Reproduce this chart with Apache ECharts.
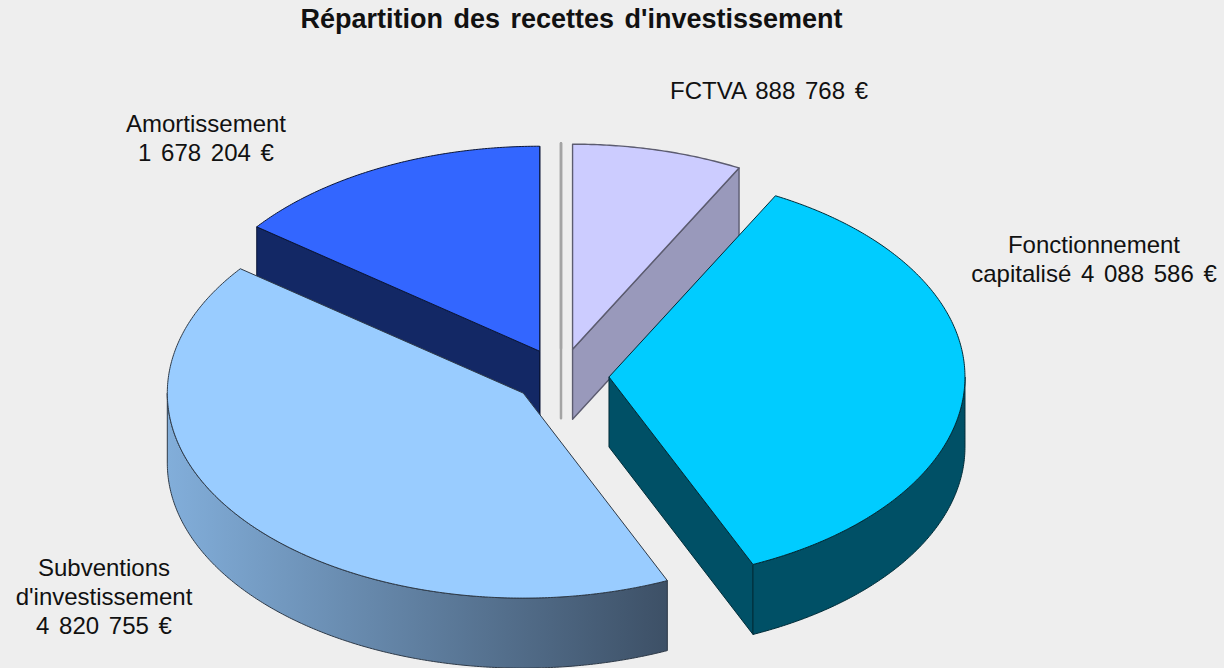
<!DOCTYPE html>
<html lang="fr">
<head>
<meta charset="utf-8">
<style>
html,body{margin:0;padding:0;background:#eeeeee}
#c{width:1224px;height:668px}
#c text{word-spacing:3px}
</style>
<script src="https://cdn.jsdelivr.net/npm/echarts@6/dist/echarts.min.js"></script>
</head>
<body>
<div id="c"></div>
<script>
const chartTitle = "Répartition des recettes d'investissement";
const names = ['', 'FCTVA', 'Fonctionnement\ncapitalisé', "Subventions\nd'investissement", 'Amortissement'];
const values = [0, 888768, 4088586, 4820755, 1678204];
const joiners = ['', ' ', ' ', '\n', '\n'];
const topColors = ['#999999', '#CCCCFF', '#00CCFF', '#99CCFF', '#3366FF'];
const wallColors = ['#999999', '#9999BB', '#005066', '#5f7fa0', '#132865'];
const edgeColors = ['#a4a4a4', '#5c5c70', '#002c38', '#2e3a48', '#0a1638'];
const edgeWidths = [2.5, 1.4, 1, 1, 1];
const subsidyGradient = ['#82AEDA', '#3D5066'];
const labelCentres = [[0, 0], [769, 90], [1094, 258.5], [104, 596], [206, 137.5]];

const PIE = { cx: 561, cy: 376, rx: 356, ry: 205, depth: 70, explode: 48, step: Math.PI / 360 };

const total = values.reduce((a, b) => a + b, 0);
let run = 0;
const starts = values.map(v => { const s = run; run += v; return s / total * 2 * Math.PI; });
const fmt = v => String(v).replace(/\B(?=(\d{3})+$)/g, ' ');

function renderItem(params, api) {
  const i = params.dataIndex;
  const v = api.value(0);
  const a0 = starts[i], a1 = a0 + v / total * 2 * Math.PI, mid = (a0 + a1) / 2;
  const k = PIE.ry / PIE.rx;
  const ox = PIE.cx + PIE.explode * Math.sin(mid);
  const oy = PIE.cy - PIE.explode * k * Math.cos(mid);
  const at = (a, d) => [ox + PIE.rx * Math.sin(a), oy - PIE.ry * Math.cos(a) + d];
  const arc = (from, to, d) => {
    const pts = [];
    const n = Math.max(1, Math.ceil((to - from) / PIE.step));
    for (let j = 0; j <= n; j++) pts.push(at(from + (to - from) * j / n, d));
    return pts;
  };
  const apex = d => [ox, oy + d];
  const z = Math.round(-Math.cos(mid) * 100) + 200;
  const edge = { stroke: edgeColors[i], lineWidth: edgeWidths[i], lineJoin: 'round' };
  const poly = (points, fill) => ({
    type: 'polygon', z2: z, shape: { points },
    style: Object.assign({ fill }, edge)
  });
  const kids = [];
  const wallFill = i === 3
    ? { type: 'linear', x: 0, y: 0, x2: 1, y2: 0,
        colorStops: [{ offset: 0, color: subsidyGradient[0] }, { offset: 1, color: subsidyGradient[1] }] }
    : wallColors[i];
  if (Math.sin(a0) < -1e-9) {
    kids.push(poly([apex(0), at(a0, 0), at(a0, PIE.depth), apex(PIE.depth)], wallColors[i]));
  }
  if (Math.sin(a1) > -1e-9) {
    kids.push(poly([apex(0), at(a1, 0), at(a1, PIE.depth), apex(PIE.depth)], wallColors[i]));
  }
  const lo = Math.max(a0, Math.PI / 2), hi = Math.min(a1, 3 * Math.PI / 2);
  if (hi > lo) {
    kids.push(poly(arc(lo, hi, 0).concat(arc(lo, hi, PIE.depth).reverse()), wallFill));
  }
  kids.push(poly([apex(0)].concat(arc(a0, a1, 0)), topColors[i]));
  if (names[i]) {
    kids.push({
      type: 'text', z2: 500,
      style: {
        x: labelCentres[i][0], y: labelCentres[i][1],
        text: names[i] + joiners[i] + fmt(v) + ' €',
        fill: '#111111', align: 'center', verticalAlign: 'middle',
        font: '24px "Liberation Sans", Arial, sans-serif', lineHeight: 29
      }
    });
  }
  return { type: 'group', children: kids };
}

const chart = echarts.init(document.getElementById('c'), null, { renderer: 'svg', width: 1224, height: 668 });
chart.setOption({
  animation: false,
  backgroundColor: '#EEEEEE',
  title: {
    text: chartTitle, left: 566.5, top: 0, textAlign: 'center',
    textStyle: { fontFamily: '"Liberation Sans", Arial, sans-serif', fontWeight: 'bold', fontSize: 27, color: '#111111' }
  },
  series: [{
    type: 'custom', coordinateSystem: 'none', silent: true,
    data: values, renderItem
  }]
});
</script>
</body>
</html>
